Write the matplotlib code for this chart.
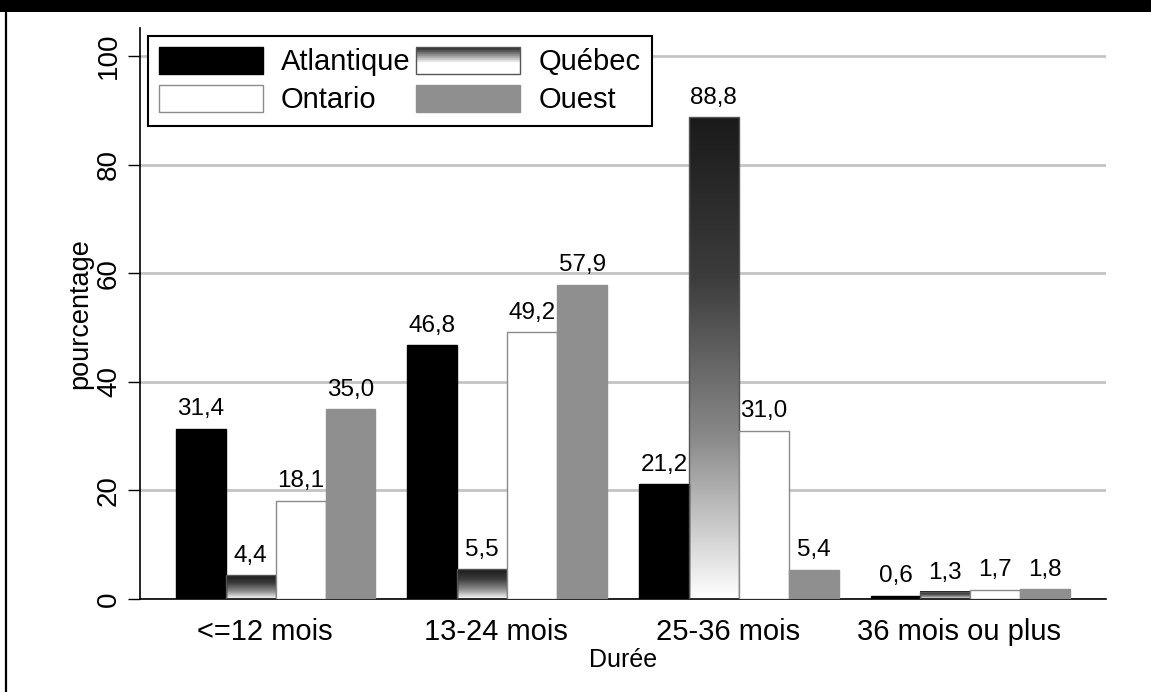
import numpy as np
import matplotlib
matplotlib.use("Agg")
import matplotlib.pyplot as plt
from matplotlib.colors import LinearSegmentedColormap
from matplotlib.patches import Rectangle
from matplotlib.lines import Line2D
from matplotlib.legend_handler import HandlerBase

plt.rcParams['font.family'] = ['Liberation Sans', 'DejaVu Sans']

categories = ["<=12 mois", "13-24 mois", "25-36 mois", "36 mois ou plus"]
regions = ["Atlantique", "Québec", "Ontario", "Ouest"]
atlantique = [31.4, 46.8, 21.2, 0.6]
quebec = [4.4, 5.5, 88.8, 1.3]
ontario = [18.1, 49.2, 31.0, 1.7]
ouest = [35.0, 57.9, 5.4, 1.8]
yticks = [0, 20, 40, 60, 80, 100]

W, H = 1151, 692
fig = plt.figure(figsize=(W / 100, H / 100), dpi=100)
ax = fig.add_axes([140 / W, 1 - 599 / H, (1106 - 140) / W, (599 - 28) / H])

grad_cmap = LinearSegmentedColormap.from_list("qc", ["#ffffff", "#8a8a8a", "#3c3c3c", "#1a1a1a"])
grad = np.linspace(0, 1, 256).reshape(-1, 1)

x = np.arange(len(categories))
w = 0.2155
offsets = [-1.5 * w, -0.5 * w, 0.5 * w, 1.5 * w]
styles = [
    dict(color="black", edgecolor="black"),
    dict(color="none", edgecolor="#555555"),
    dict(color="white", edgecolor="#8a8a8a"),
    dict(color="#8f8f8f", edgecolor="#8f8f8f"),
]


def fmt(v):
    return f"{v:.1f}".replace(".", ",")


for k, (vals, off, st) in enumerate(zip([atlantique, quebec, ontario, ouest], offsets, styles)):
    bars = ax.bar(x + off, vals, width=w, linewidth=1, zorder=3, **st)
    if k == 1:
        # vertical dark-to-white fill for each Québec bar
        for b in bars:
            ax.imshow(grad, cmap=grad_cmap, origin="lower", aspect="auto",
                      extent=[b.get_x(), b.get_x() + b.get_width(), 0, b.get_height()],
                      zorder=2.5, interpolation="bilinear")
    for b, v in zip(bars, vals):
        ax.annotate(fmt(v), (b.get_x() + b.get_width() / 2, v), xytext=(0, 6),
                    textcoords="offset points", ha="center", va="bottom", fontsize=17.5, zorder=4)

ax.set_xlim(-0.586, 3.586)
ax.set_ylim(0, 105.2)
ax.set_yticks(yticks)
ax.set_yticklabels([str(t) for t in yticks], rotation=90, va="center", fontsize=20)
ax.set_xticks(x - 0.047)
ax.set_xticklabels(categories, fontsize=21)
ax.tick_params(axis="x", length=0, pad=14)
ax.tick_params(axis="y", length=9, width=1, pad=4)
ax.grid(axis="y", color="#c4c4c4", linewidth=2, zorder=0)
ax.set_axisbelow(True)
for s in ["top", "right"]:
    ax.spines[s].set_visible(False)
ax.spines["left"].set_linewidth(1.2)
ax.spines["bottom"].set_linewidth(1.2)
ax.set_ylabel("pourcentage", fontsize=19.5, labelpad=2)
ax.set_xlabel("Durée", fontsize=18, labelpad=1)


class HandlerGradient(HandlerBase):
    def create_artists(self, legend, orig_handle, xdescent, ydescent, width, height, fontsize, trans):
        artists = []
        n = 40
        for i in range(n):
            t = (i + 0.5) / n
            shade = np.clip((t - 0.4) / 0.6, 0, 1)
            g = 1 - shade * 0.88
            artists.append(Rectangle((-xdescent, -ydescent + i * height / n), width, height / n + 0.3,
                                     facecolor=(g, g, g), edgecolor="none", transform=trans))
        artists.append(Rectangle((-xdescent, -ydescent), width, height, facecolor="none",
                                 edgecolor="#555555", linewidth=1, transform=trans))
        return artists


h_atl = Rectangle((0, 0), 1, 1, facecolor="black", edgecolor="black")
h_qc = Rectangle((0, 0), 1, 1, facecolor="white", edgecolor="#555555")
h_on = Rectangle((0, 0), 1, 1, facecolor="white", edgecolor="#8a8a8a")
h_ou = Rectangle((0, 0), 1, 1, facecolor="#8f8f8f", edgecolor="#8f8f8f")
leg = ax.legend([h_atl, h_on, h_qc, h_ou], [regions[0], regions[2], regions[1], regions[3]],
                ncol=2, loc="upper left", bbox_to_anchor=(8 / 966, 1 - 8 / 571), borderaxespad=0,
                fontsize=21, handlelength=3.56, handleheight=1.03, handletextpad=0.62,
                columnspacing=0.2, labelspacing=0.3, borderpad=0.38, fancybox=False,
                framealpha=1, edgecolor="black", handler_map={h_qc: HandlerGradient()})
leg.get_frame().set_linewidth(1.5)
leg.set_zorder(5)

# black band along the top and frame line on the left
fig.add_artist(Rectangle((0, 1 - 12 / H), 1, 12 / H, transform=fig.transFigure,
                         facecolor="black", edgecolor="none"))
fig.add_artist(Line2D([5.5 / W, 5.5 / W], [0, 1], transform=fig.transFigure, color="black", linewidth=1.6))

fig.savefig("out.png", dpi=100)
